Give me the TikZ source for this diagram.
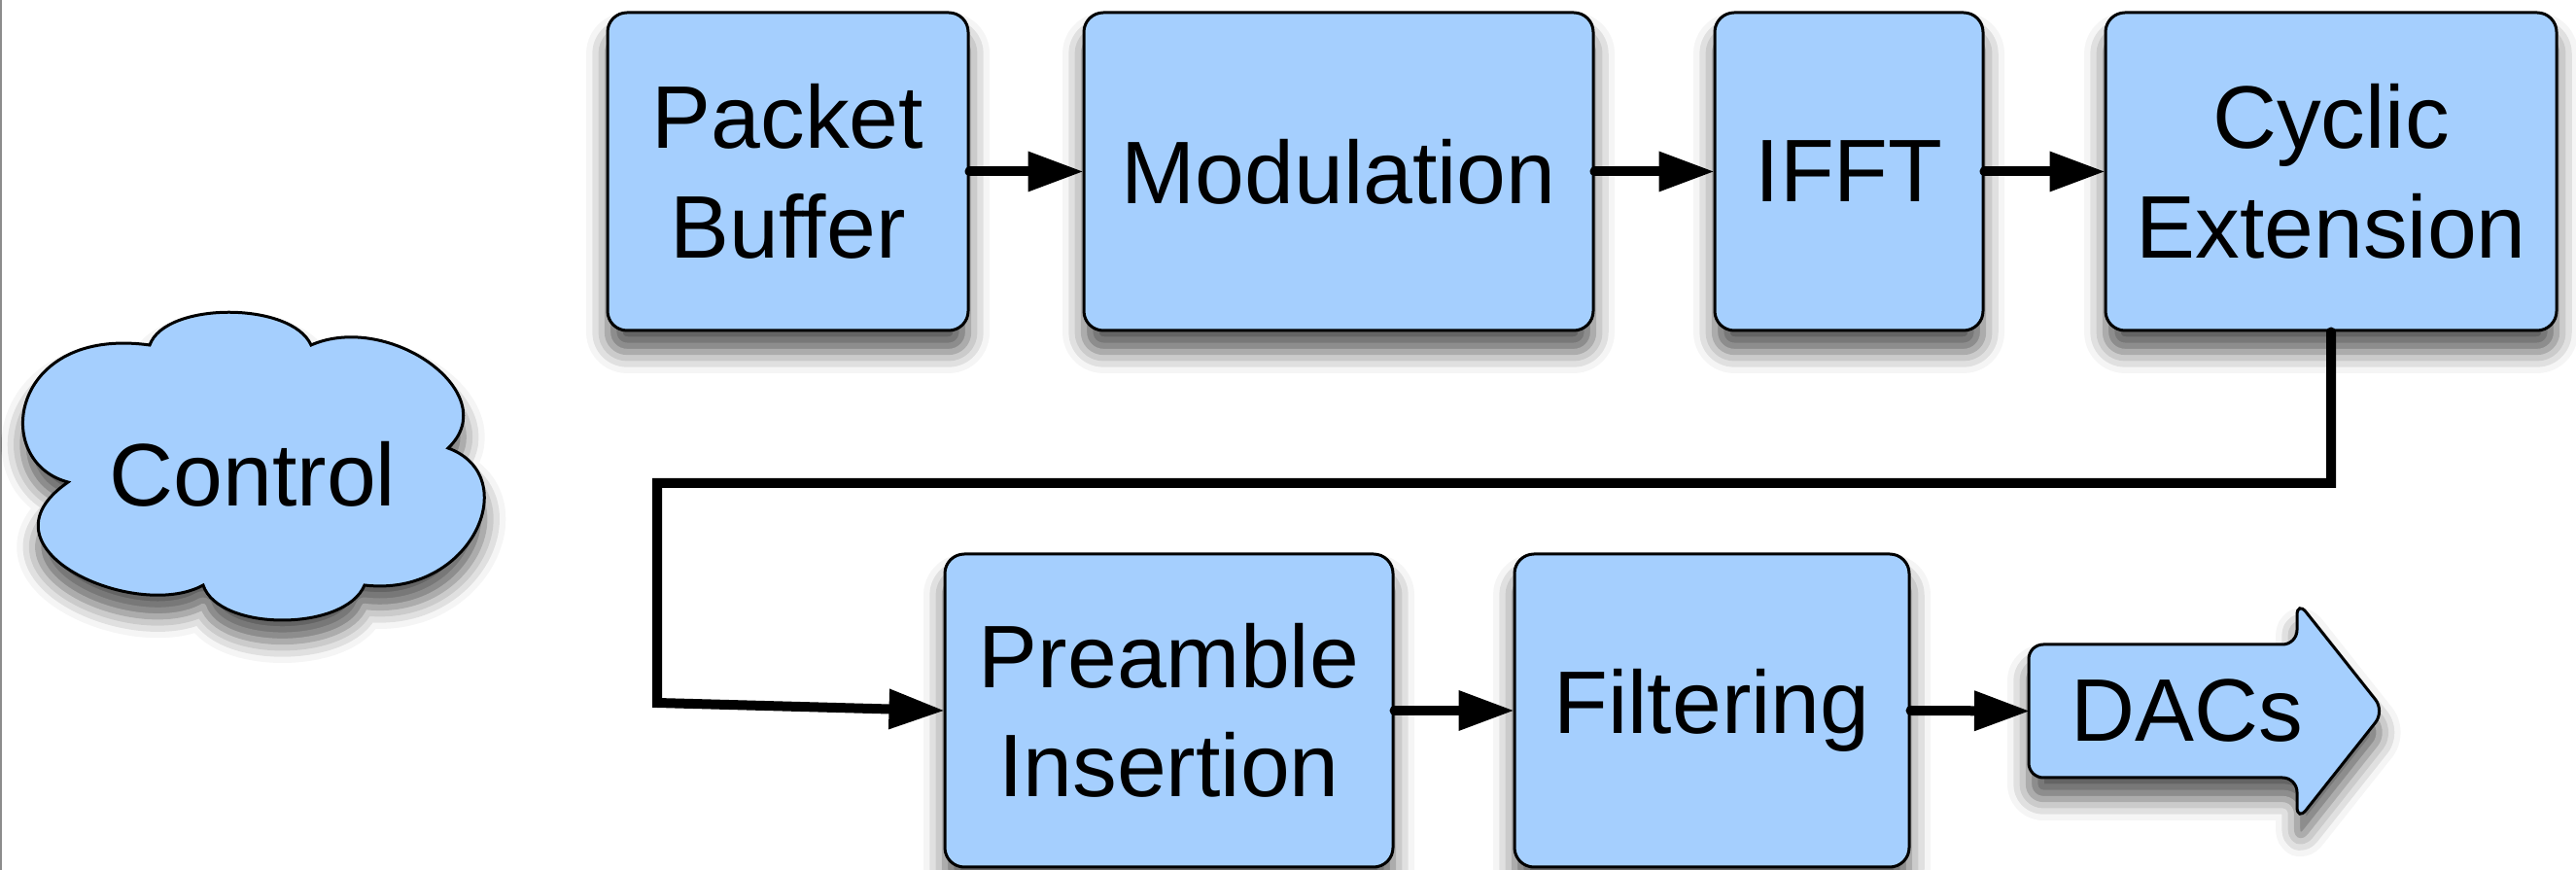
\documentclass[tikz,border=0pt]{standalone}
\usepackage{fontspec}
\setmainfont{Liberation Sans}
\usetikzlibrary{arrows.meta,shadows.blur}
\definecolor{blockblue}{HTML}{A5CFFE}

\begin{document}
\begin{tikzpicture}[
    lbl/.style={font=\fontsize{26}{32}\selectfont, align=center},
    filled/.style={draw, line width=0.03cm, fill=blockblue,
        blur shadow={shadow xshift=0pt, shadow yshift=-0.22cm, shadow blur radius=0.22cm, shadow opacity=65}},
    block/.style={lbl, filled, rounded corners=0.2cm, inner sep=0pt},
    flow/.style={line width=0.1cm, line cap=round,
        -{Triangle[length=0.56cm, width=0.42cm, line width=0pt, fill=black]}}]
    \useasboundingbox (0,0) rectangle (26.5,8.95);
    \draw[black!45, line width=0.02cm] (0.01,0) -- (0.01,8.95);

    % Top row of blocks
    \node[block, minimum width=3.71cm, minimum height=3.27cm] (pb) at (8.105,7.185) {Packet\\Buffer};
    \node[block, minimum width=5.24cm, minimum height=3.27cm] (mod) at (13.77,7.185) {Modulation};
    \node[block, minimum width=2.76cm, minimum height=3.27cm] (ifft) at (19.02,7.185) {IFFT};
    \node[block, minimum width=4.64cm, minimum height=3.27cm] (cyc) at (23.98,7.185) {Cyclic\\Extension};

    % Control cloud
    \draw[filled] (0.70,3.99) .. controls (-0.10,4.20) and (0.10,5.60) .. (1.54,5.40)
        .. controls (1.70,5.85) and (3.00,5.85) .. (3.20,5.40)
        .. controls (4.00,5.75) and (5.20,4.90) .. (4.61,4.34)
        .. controls (5.40,4.05) and (4.85,2.80) .. (3.75,2.93)
        .. controls (3.55,2.45) and (2.25,2.45) .. (2.09,2.93)
        .. controls (1.40,2.55) and (-0.30,3.30) .. cycle;
    \node[lbl] (ctrl) at (2.60,4.07) {Control};

    % Bottom row of blocks
    \node[block, minimum width=4.61cm, minimum height=3.22cm] (pre) at (12.025,1.64) {Preamble\\Insertion};
    \node[block, minimum width=4.06cm, minimum height=3.22cm] (filt) at (17.61,1.64) {Filtering};

    % DACs output arrow
    \draw[filled, rounded corners=0.15cm] (20.87,1.635) -- (20.87,2.32) -- (23.63,2.32) -- (23.63,2.77)
        -- (24.53,1.635) -- (23.63,0.50) -- (23.63,0.95) -- (20.87,0.95) -- cycle;
    \node[lbl, anchor=west, inner xsep=0.43cm, inner ysep=0pt] (dacs) at (20.87,1.635) {DACs};

    % Edges along the top row
    \draw[flow] (pb) -- (mod);
    \draw[flow] (mod) -- (ifft);
    \draw[flow] (ifft) -- (cyc);

    % Wrap-around to the bottom row
    \coordinate (loopL) at (6.76,3.98);
    \coordinate (loopB) at (6.76,1.72);
    \draw[flow] (cyc.south) |- (loopL) -- (loopB) -- (pre.west);

    % Edges along the bottom row
    \draw[flow] (pre) -- (filt);
    \draw[flow] (filt.east) -- (dacs.west);
\end{tikzpicture}
\end{document}
